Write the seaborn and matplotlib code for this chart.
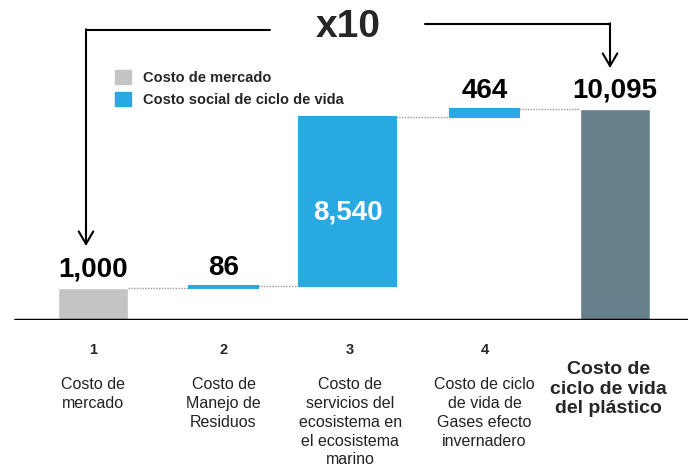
import numpy as np
import pandas as pd
import matplotlib
matplotlib.use("Agg")
import matplotlib.pyplot as plt
import seaborn as sns
from matplotlib.patches import Patch
from matplotlib.lines import Line2D

# data
categories = ["1", "2", "3", "4", "5"]
cat_numbers = ["1", "2", "3", "4", ""]
cat_labels = [
    "Costo de\nmercado",
    "Costo de\nManejo de\nResiduos",
    "Costo de\nservicios del\necosistema en\nel ecosistema\nmarino",
    "Costo de ciclo\nde vida de\nGases efecto\ninvernadero",
    "Costo de\nciclo de vida\ndel plástico",
]
values = [1000, 86, 8540, 464, 10095]
value_labels = ["1,000", "86", "8,540", "464", "10,095"]
kinds = ["Costo de mercado", "Costo social de ciclo de vida",
         "Costo social de ciclo de vida", "Costo social de ciclo de vida", "Total"]
colors = {"Costo de mercado": "#c4c4c4",
          "Costo social de ciclo de vida": "#29a9e1",
          "Total": "#66818c"}

# waterfall bottoms
bottoms = [0]
for v in values[:3]:
    bottoms.append(bottoms[-1] + v)
bottoms.append(0)

sns.set_theme(style="white")
plt.rcParams["font.family"] = ["Liberation Sans", "DejaVu Sans"]

fig = plt.figure(figsize=(6.88, 4.68), dpi=100)
ax = fig.add_axes([0, (468 - 320) / 468, 1, 320 / 468])

# the original chart is drawn on a compressed (non-linear) vertical scale
p = 0.82
ax.set_yscale("function", functions=(lambda y: np.power(np.clip(y, 0, None), p),
                                      lambda y: np.power(np.clip(y, 0, None), 1 / p)))

# bars starting at zero: market cost and total
df = pd.DataFrame({"cat": categories, "value": values, "kind": kinds})
base = df[df["kind"] != "Costo social de ciclo de vida"]
sns.barplot(data=base, x="cat", y="value", order=categories, hue="kind",
            palette=colors, width=0.536, legend=False, ax=ax, saturation=1)

# floating bars (social costs); the wide middle bar sits a little left
widths = [0.536, 0.536, 0.75, 0.536, 0.536]
shift = [0, 0, -0.05, 0, 0]
for i in range(1, 4):
    ax.bar(i + shift[i], values[i], bottom=bottoms[i], width=widths[i],
           color=colors[kinds[i]], edgecolor=colors[kinds[i]], linewidth=1.5)

# dotted connectors
tops = [bottoms[i] + values[i] for i in range(5)]
for i in range(4):
    x0 = i + shift[i] + widths[i] / 2
    x1 = i + 1 + shift[i + 1] - widths[i + 1] / 2
    ax.plot([x0, x1], [tops[i], tops[i]], ls=(0, (1, 1)), color="#9a9a9a", lw=1)

# value labels
for i in range(5):
    if i == 2:
        ax.annotate(value_labels[i], (i + shift[i], bottoms[i]), xytext=(0, 53),
                    textcoords="offset points", ha="center", va="center",
                    color="white", fontsize=20, fontweight="bold")
    else:
        ax.annotate(value_labels[i], (i, tops[i]), xytext=(0, 4),
                    textcoords="offset points", ha="center", va="bottom",
                    fontsize=20, fontweight="bold", color="black")

ax.set_xlim(-93 / 130.5, (688 - 93) / 130.5)
ytop = 10095 * (320 / 211) ** (1 / p)
ax.set_ylim(0, ytop)
ax.axhline(0, xmin=15 / 688, xmax=1, color="black", lw=2.5, zorder=5)
ax.set_xticks([])
ax.set_yticks([])
ax.set_xlabel("")
ax.set_ylabel("")
sns.despine(ax=ax, left=True, bottom=True)

# category labels under the baseline
tr = ax.get_xaxis_transform()
for i in range(5):
    if i < 4:
        xi = i + shift[i] * 0.6
        ax.text(xi, -30 / 320, cat_numbers[i], transform=tr, ha="center", va="center",
                fontsize=10.5, fontweight="bold", clip_on=False)
        ax.text(xi, -57 / 320, cat_labels[i], transform=tr, ha="center", va="top",
                fontsize=11.5, linespacing=1.32, clip_on=False, color="#222222")
    else:
        ax.text(i - 0.05, -41 / 320, cat_labels[i], transform=tr, ha="center", va="top",
                fontsize=14, fontweight="bold", linespacing=1.2, clip_on=False)

# legend
handles = [Patch(color=colors["Costo de mercado"], label="Costo de mercado"),
           Patch(color=colors["Costo social de ciclo de vida"],
                 label="Costo social de ciclo de vida")]
leg = fig.legend(handles=handles, loc="upper left",
                 bbox_to_anchor=(102 / 688, 1 - 57 / 468), frameon=False,
                 handlelength=1.1, handleheight=1.1, handletextpad=0.8,
                 labelspacing=0.45, prop={"weight": "bold", "size": 10.5})

# "x10" bracket arrows
fig.text(348 / 688, 1 - 27 / 468, "x10", ha="center", va="center",
         fontsize=28, fontweight="bold")
fig.add_artist(Line2D([86 / 688, 270 / 688], [1 - 30 / 468, 1 - 30 / 468],
                      color="black", lw=1.5, transform=fig.transFigure))
fig.add_artist(Line2D([425 / 688, 610 / 688], [1 - 24 / 468, 1 - 24 / 468],
                      color="black", lw=1.5, transform=fig.transFigure))
arrow = dict(arrowstyle="->,head_length=0.6,head_width=0.35", lw=1.5,
             color="black", mutation_scale=15, shrinkA=0, shrinkB=0)
ax.annotate("", xy=(86, 468 - 246), xytext=(86, 468 - 29.3),
            xycoords="figure pixels", textcoords="figure pixels", arrowprops=arrow)
ax.annotate("", xy=(610, 468 - 68), xytext=(610, 468 - 23.3),
            xycoords="figure pixels", textcoords="figure pixels", arrowprops=arrow)

fig.savefig("out.png", dpi=100, facecolor="white")
